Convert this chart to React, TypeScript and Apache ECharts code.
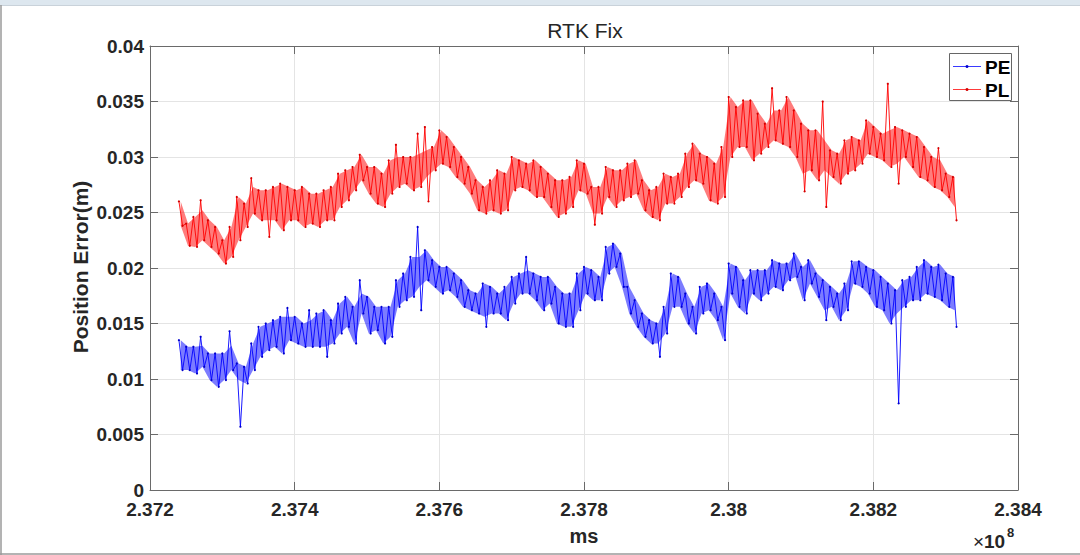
import React, { useEffect, useRef } from "react";
import * as echarts from "echarts";

// ---- data ----
// sample times in units of 1e8 ms: bin i starts at T0 + i*DT
const T0 = 2.3724;
const DT = 0.0001;

const xTicks = [2.372, 2.374, 2.376, 2.378, 2.38, 2.382, 2.384];
const yTicks = [0, 0.005, 0.01, 0.015, 0.02, 0.025, 0.03, 0.035, 0.04];

// PE (blue): upper and lower edge of the dense core per bin
const peHigh = [
  0.0135, 0.0129, 0.0129, 0.013, 0.0123, 0.0123, 0.0123, 0.013, 0.0114, 0.0111,
  0.0132, 0.0147, 0.015, 0.0153, 0.0156, 0.0156, 0.0156, 0.015, 0.0153, 0.0159,
  0.0162, 0.0153, 0.0168, 0.0174, 0.0165, 0.0177, 0.0174, 0.0165, 0.0165, 0.0165,
  0.0189, 0.0195, 0.021, 0.021, 0.0216, 0.0207, 0.0201, 0.0201, 0.0195, 0.0189,
  0.018, 0.0177, 0.0186, 0.0183, 0.0177, 0.0183, 0.0192, 0.0195, 0.0198, 0.0195,
  0.0192, 0.0192, 0.0183, 0.0177, 0.0177, 0.0195, 0.0201, 0.0198, 0.0192, 0.0219,
  0.0222, 0.0213, 0.0183, 0.0171, 0.0159, 0.0153, 0.015, 0.0165, 0.0195, 0.0192,
  0.0177, 0.0165, 0.0183, 0.0186, 0.0177, 0.0165, 0.0204, 0.0201, 0.0189, 0.0198,
  0.0198, 0.0198, 0.0207, 0.0204, 0.0204, 0.0213, 0.0201, 0.0207, 0.0195, 0.0189,
  0.0183, 0.0177, 0.0186, 0.0206, 0.0206, 0.0201, 0.0198, 0.0192, 0.0186, 0.018,
  0.0189, 0.0192, 0.0201, 0.0207, 0.0201, 0.0203, 0.0195, 0.0192,
];
const peLow = [
  0.0108, 0.0108, 0.0105, 0.0111, 0.0099, 0.0093, 0.0099, 0.0108, 0.0099, 0.0096,
  0.0108, 0.012, 0.0126, 0.0129, 0.0123, 0.0135, 0.0132, 0.0129, 0.0129, 0.0129,
  0.0129, 0.0132, 0.0141, 0.0147, 0.0132, 0.0159, 0.0141, 0.0144, 0.0132, 0.0138,
  0.0165, 0.0171, 0.0174, 0.0183, 0.0189, 0.0183, 0.0177, 0.018, 0.0174, 0.0165,
  0.0162, 0.0159, 0.0156, 0.0159, 0.0159, 0.0153, 0.0168, 0.0177, 0.0177, 0.0171,
  0.0162, 0.0168, 0.015, 0.0147, 0.0147, 0.0162, 0.0177, 0.0171, 0.0171, 0.0195,
  0.0201, 0.0183, 0.0159, 0.0147, 0.0138, 0.0132, 0.0132, 0.0141, 0.0165, 0.0165,
  0.015, 0.0141, 0.0159, 0.0162, 0.0153, 0.0135, 0.0177, 0.0165, 0.0159, 0.0177,
  0.0171, 0.0177, 0.0183, 0.018, 0.0189, 0.0192, 0.0171, 0.0186, 0.0174, 0.0162,
  0.0165, 0.0153, 0.0162, 0.0186, 0.0183, 0.0177, 0.0165, 0.0162, 0.015, 0.0159,
  0.0165, 0.0171, 0.0171, 0.0177, 0.0174, 0.0171, 0.0165, 0.0162,
];
// PE isolated spikes: bin index and value
const peSpikeBin = [3, 7, 8, 15, 18, 20, 25, 33, 33, 42, 48, 66, 89, 99, 107];
const peSpikeVal = [
  0.0138, 0.0143, 0.0057, 0.0164, 0.0162, 0.012, 0.0189, 0.0237, 0.0162, 0.0147,
  0.021, 0.012, 0.0153, 0.0078, 0.0147,
];

// PL (red): upper and lower edge of the dense core per bin
const plHigh = [
  0.026, 0.024, 0.0246, 0.0252, 0.0243, 0.0237, 0.0225, 0.0237, 0.0264, 0.0258,
  0.0273, 0.027, 0.027, 0.0273, 0.0276, 0.0273, 0.027, 0.0273, 0.0267, 0.0267,
  0.027, 0.0273, 0.0285, 0.0288, 0.0291, 0.0302, 0.0291, 0.0291, 0.0285, 0.0297,
  0.03, 0.03, 0.03, 0.0303, 0.0306, 0.0309, 0.0324, 0.0318, 0.0309, 0.03,
  0.0291, 0.0279, 0.0273, 0.0279, 0.0288, 0.0285, 0.03, 0.0297, 0.0294, 0.0297,
  0.0291, 0.0285, 0.0279, 0.0279, 0.0282, 0.0297, 0.0294, 0.0273, 0.0273, 0.0291,
  0.0288, 0.0288, 0.0294, 0.0297, 0.0279, 0.027, 0.0273, 0.0285, 0.0282, 0.0285,
  0.0303, 0.0312, 0.0303, 0.03, 0.0294, 0.0309, 0.0354, 0.0345, 0.0351, 0.0351,
  0.0339, 0.033, 0.0342, 0.0342, 0.0354, 0.0342, 0.033, 0.0324, 0.0324, 0.0315,
  0.0306, 0.0303, 0.0315, 0.0318, 0.0315, 0.0333, 0.0327, 0.0321, 0.0324, 0.0327,
  0.0324, 0.0321, 0.0318, 0.0309, 0.03, 0.0297, 0.0285, 0.0282,
];
const plLow = [
  0.0238, 0.022, 0.0219, 0.0225, 0.0219, 0.0213, 0.0204, 0.021, 0.0225, 0.0237,
  0.0249, 0.0243, 0.0243, 0.0243, 0.0234, 0.0243, 0.0243, 0.0237, 0.024, 0.0237,
  0.0243, 0.0243, 0.0255, 0.0261, 0.027, 0.0279, 0.0267, 0.0258, 0.0255, 0.0267,
  0.0273, 0.0276, 0.027, 0.0273, 0.0282, 0.0288, 0.0294, 0.0291, 0.0282, 0.0276,
  0.0267, 0.0252, 0.0249, 0.0252, 0.0249, 0.0252, 0.027, 0.0273, 0.027, 0.0264,
  0.0264, 0.0255, 0.0246, 0.0249, 0.0255, 0.027, 0.0267, 0.0249, 0.0249, 0.0264,
  0.0255, 0.0261, 0.0264, 0.0267, 0.0252, 0.0246, 0.0243, 0.0258, 0.0258, 0.0264,
  0.0273, 0.0279, 0.0276, 0.0261, 0.0258, 0.0264, 0.03, 0.0309, 0.0309, 0.0297,
  0.0303, 0.0309, 0.0315, 0.0312, 0.0309, 0.03, 0.0285, 0.0288, 0.0279, 0.0288,
  0.0282, 0.0276, 0.0285, 0.0288, 0.0294, 0.0303, 0.03, 0.0297, 0.0291, 0.0294,
  0.03, 0.0291, 0.0282, 0.0279, 0.0273, 0.027, 0.0264, 0.0255,
];
// PL isolated spikes: bin index and value
const plSpikeBin = [3, 10, 12, 30, 33, 34, 34, 57, 82, 86, 89, 89, 98, 99, 105, 107];
const plSpikeVal = [
  0.0261, 0.0281, 0.0228, 0.0311, 0.0321, 0.0327, 0.026, 0.0239, 0.0362, 0.0269,
  0.035, 0.0255, 0.0366, 0.0276, 0.0308, 0.0243,
];

const seriesNames = ["PE", "PL"];

// zig-zag line through every bin's upper and lower reading (spikes replace the core edge)
function zig(high: number[], low: number[], spikeBin: number[], spikeVal: number[]): number[][] {
  const hi = high.slice();
  const lo = low.slice();
  spikeBin.forEach((b, k) => {
    const v = spikeVal[k];
    if (v > hi[b]) hi[b] = v;
    else if (v < lo[b]) lo[b] = v;
  });
  const out: number[][] = [];
  for (let i = 0; i < hi.length; i++) {
    const t = T0 + i * DT;
    out.push([t, hi[i]]);
    out.push([t + DT / 2, lo[i]]);
  }
  return out;
}
// band rows: [t, low, high]
function bandRows(high: number[], low: number[]): number[][] {
  return high.map((h, i) => [T0 + i * DT + DT / 4, low[i], h]);
}

const FONT = '"Liberation Sans", Arial, Helvetica, sans-serif';
const AX = "#6a6a6a";
const TXT = "#262626";
const fmt = (v: number) => String(+v.toFixed(3));

function bandSeries(rows: number[][], color: string, opacity: number) {
  return {
    type: "custom",
    silent: true,
    clip: true,
    z: 1,
    data: [0],
    renderItem: (params: any, api: any) => {
      const top = rows.map((r) => api.coord([r[0], r[2]]));
      const bottom = rows.map((r) => api.coord([r[0], r[1]])).reverse();
      return {
        type: "polygon",
        shape: { points: top.concat(bottom) },
        style: { fill: color, opacity },
      };
    },
  };
}

export default function App() {
  const ref = useRef<HTMLDivElement>(null);
  useEffect(() => {
    if (!ref.current) return;
    const chart = echarts.init(ref.current, undefined, { renderer: "svg" });
    const axisCommon = {
      type: "value" as const,
      axisLine: { show: true, onZero: false, lineStyle: { color: AX, width: 1 } },
      axisTick: { show: true, inside: true, length: 8, lineStyle: { color: AX } },
    };
    chart.setOption({
      animation: false,
      backgroundColor: "#ffffff",
      grid: { left: 150, right: 62, top: 46, bottom: 65, containLabel: false },
      xAxis: [
        {
          ...axisCommon,
          position: "bottom",
          min: xTicks[0],
          max: xTicks[xTicks.length - 1],
          interval: 0.002,
          axisLabel: {
            formatter: fmt,
            fontSize: 19,
            fontWeight: "bold",
            color: TXT,
            fontFamily: FONT,
            margin: 10,
          },
          splitLine: { show: true, lineStyle: { color: "#e4e4e4", width: 1 } },
        },
        {
          ...axisCommon,
          position: "top",
          min: xTicks[0],
          max: xTicks[xTicks.length - 1],
          interval: 0.002,
          axisLabel: { show: false },
          splitLine: { show: false },
        },
      ],
      yAxis: [
        {
          ...axisCommon,
          position: "left",
          min: yTicks[0],
          max: yTicks[yTicks.length - 1],
          interval: 0.005,
          axisLabel: {
            formatter: fmt,
            fontSize: 19,
            fontWeight: "bold",
            color: TXT,
            fontFamily: FONT,
            margin: 6,
          },
          splitLine: { show: true, lineStyle: { color: "#e4e4e4", width: 1 } },
        },
        {
          ...axisCommon,
          position: "right",
          min: yTicks[0],
          max: yTicks[yTicks.length - 1],
          interval: 0.005,
          axisLabel: { show: false },
          splitLine: { show: false },
        },
      ],
      series: [
        bandSeries(bandRows(peHigh, peLow), "#1010ff", 0.55),
        bandSeries(bandRows(plHigh, plLow), "#ff1010", 0.55),
        {
          name: seriesNames[0],
          type: "line",
          z: 2,
          data: zig(peHigh, peLow, peSpikeBin, peSpikeVal),
          symbol: "circle",
          symbolSize: 2.2,
          showSymbol: true,
          lineStyle: { color: "#0000ff", width: 0.9 },
          itemStyle: { color: "#0000cc" },
          silent: true,
        },
        {
          name: seriesNames[1],
          type: "line",
          z: 2,
          data: zig(plHigh, plLow, plSpikeBin, plSpikeVal),
          symbol: "circle",
          symbolSize: 2.2,
          showSymbol: true,
          lineStyle: { color: "#ff0000", width: 0.9 },
          itemStyle: { color: "#d40000" },
          silent: true,
        },
      ],
      graphic: [
        // window frame
        { type: "rect", shape: { x: 0, y: 0, width: 1080, height: 5 }, style: { fill: "#dde7ef" }, silent: true },
        { type: "line", shape: { x1: 0, y1: 5.5, x2: 1080, y2: 5.5 }, style: { stroke: "#c9d2da", lineWidth: 1 }, silent: true },
        { type: "line", shape: { x1: 1, y1: 5, x2: 1, y2: 555 }, style: { stroke: "#9a9a9a", lineWidth: 1.5 }, silent: true },
        { type: "line", shape: { x1: 0, y1: 554, x2: 1080, y2: 554 }, style: { stroke: "#9a9a9a", lineWidth: 1.5 }, silent: true },
        // title
        {
          type: "text",
          x: 585,
          y: 30,
          style: { text: "RTK Fix", font: `21px ${FONT}`, fill: TXT, align: "center", verticalAlign: "middle" },
          silent: true,
        },
        // y-axis name
        {
          type: "text",
          x: 80.5,
          y: 267,
          rotation: Math.PI / 2,
          style: { text: "Position Error(m)", font: `bold 21px ${FONT}`, fill: TXT, align: "center", verticalAlign: "middle" },
          silent: true,
        },
        // x-axis name
        {
          type: "text",
          x: 584,
          y: 536,
          style: { text: "ms", font: `bold 20px ${FONT}`, fill: TXT, align: "center", verticalAlign: "middle" },
          silent: true,
        },
        // exponent
        {
          type: "text",
          x: 973,
          y: 541,
          style: { text: "×", font: `19px ${FONT}`, fill: TXT, align: "left", verticalAlign: "middle" },
          silent: true,
        },
        {
          type: "text",
          x: 984,
          y: 541,
          style: { text: "10", font: `bold 19px ${FONT}`, fill: TXT, align: "left", verticalAlign: "middle" },
          silent: true,
        },
        {
          type: "text",
          x: 1007,
          y: 532,
          style: { text: "8", font: `bold 13px ${FONT}`, fill: TXT, align: "left", verticalAlign: "middle" },
          silent: true,
        },
        // legend
        {
          type: "rect",
          shape: { x: 949.5, y: 53.5, width: 62, height: 47 },
          style: { fill: "#ffffff", stroke: "#666666", lineWidth: 1 },
          z: 10,
          silent: true,
        },
        { type: "line", shape: { x1: 953, y1: 66.5, x2: 981, y2: 66.5 }, style: { stroke: "#3a3aff", lineWidth: 1 }, z: 11, silent: true },
        { type: "circle", shape: { cx: 967, cy: 66.5, r: 1.5 }, style: { fill: "#0000cc" }, z: 11, silent: true },
        {
          type: "text",
          x: 985,
          y: 67,
          style: { text: seriesNames[0], font: `bold 19px ${FONT}`, fill: "#000000", align: "left", verticalAlign: "middle" },
          z: 11,
          silent: true,
        },
        { type: "line", shape: { x1: 953, y1: 89.5, x2: 981, y2: 89.5 }, style: { stroke: "#ff3a3a", lineWidth: 1 }, z: 11, silent: true },
        { type: "circle", shape: { cx: 967, cy: 89.5, r: 1.5 }, style: { fill: "#d40000" }, z: 11, silent: true },
        {
          type: "text",
          x: 985,
          y: 90,
          style: { text: seriesNames[1], font: `bold 19px ${FONT}`, fill: "#000000", align: "left", verticalAlign: "middle" },
          z: 11,
          silent: true,
        },
      ],
    });
    return () => chart.dispose();
  }, []);
  return (
    <div
      ref={ref}
      style={{ position: "absolute", left: 0, top: 0, width: 1080, height: 555, background: "#fff" }}
    />
  );
}
